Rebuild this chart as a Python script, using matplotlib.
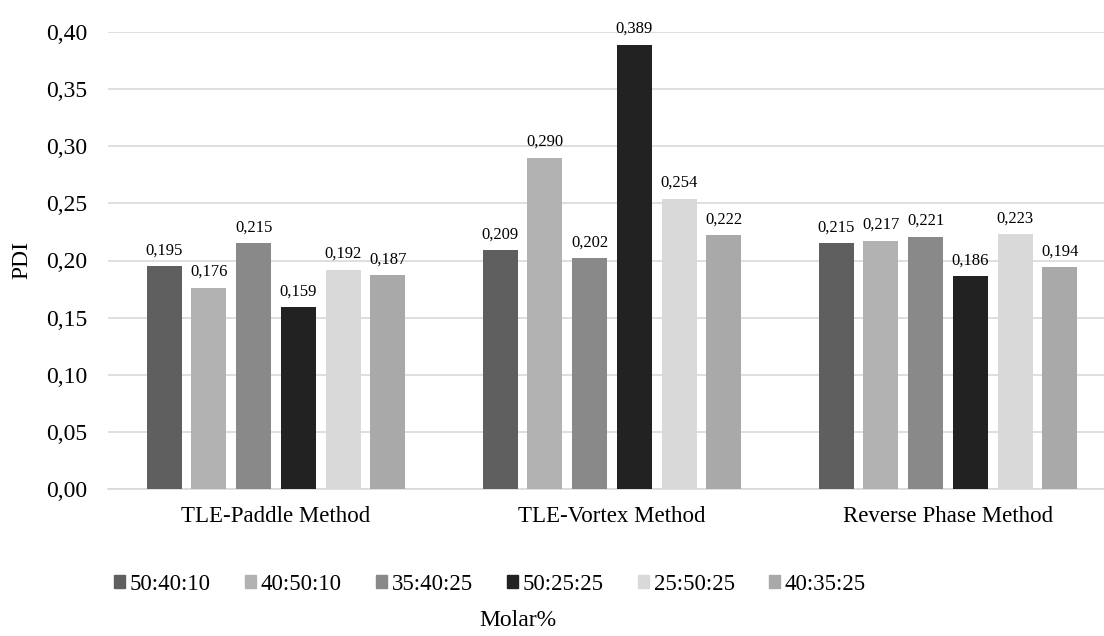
import numpy as np
import matplotlib.pyplot as plt
from matplotlib.patches import Patch

plt.rcParams['font.family'] = ['Liberation Serif', 'DejaVu Serif']

methods = ["TLE-Paddle Method", "TLE-Vortex Method", "Reverse Phase Method"]
ratios = ["50:40:10", "40:50:10", "35:40:25", "50:25:25", "25:50:25", "40:35:25"]
pdi = [
    [0.195, 0.209, 0.215],  # 50:40:10
    [0.176, 0.290, 0.217],  # 40:50:10
    [0.215, 0.202, 0.221],  # 35:40:25
    [0.159, 0.389, 0.186],  # 50:25:25
    [0.192, 0.254, 0.223],  # 25:50:25
    [0.187, 0.222, 0.194],  # 40:35:25
]
colors = ["#5f5f5f", "#b2b2b2", "#898989", "#222222", "#d9d9d9", "#a9a9a9"]

W, H = 1104, 636
fig = plt.figure(figsize=(W/100, H/100), dpi=100)
ax = fig.add_axes([108/W, 1 - 489/H, (W - 108)/W, (489 - 32)/H])

x = np.arange(len(methods))
pitch = 0.133
width = 0.104
for i, (vals, c) in enumerate(zip(pdi, colors)):
    pos = x + (i - 2.5) * pitch
    bars = ax.bar(pos, vals, width, color=c, zorder=3)
    for b, v in zip(bars, vals):
        ax.text(b.get_x() + b.get_width()/2, v + 0.007, f"{v:.3f}".replace(".", ","),
                ha="center", va="bottom", fontsize=12)

# plot area runs slightly past the right edge of the image
ax.set_xlim(-0.5, 2.5 - 12/336)
ax.set_ylim(0, 0.40)
yt = np.arange(0, 0.401, 0.05)
ax.set_yticks(yt)
ax.set_yticklabels([f"{t:.2f}".replace(".", ",") for t in yt], fontsize=17)
ax.set_xticks(x)
ax.set_xticklabels(methods, fontsize=16.5)
ax.tick_params(axis="y", length=0, pad=15)
ax.tick_params(axis="x", length=0, pad=12)
ax.grid(axis="y", color="#d9d9d9", linewidth=1.2, zorder=0)
for s in ["top", "right", "left"]:
    ax.spines[s].set_visible(False)
ax.spines["bottom"].set_color("#d9d9d9")
ax.spines["bottom"].set_linewidth(1.2)

fig.text(22/W, 1 - 260/H, "PDI", rotation=90, ha="center", va="center", fontsize=17)

handles = [Patch(color=c, label=r) for c, r in zip(colors, ratios)]
fig.legend(handles=handles, loc="center left", bbox_to_anchor=(98/W, 1 - 584/H),
           ncol=6, frameon=False, fontsize=16.5, handlelength=0.48, handleheight=0.48,
           handletextpad=0.2, columnspacing=1.5, borderpad=0.2)
fig.text(518/W, 1 - 620/H, "Molar%", ha="center", va="center", fontsize=17)

fig.savefig("out.png", dpi=100)
